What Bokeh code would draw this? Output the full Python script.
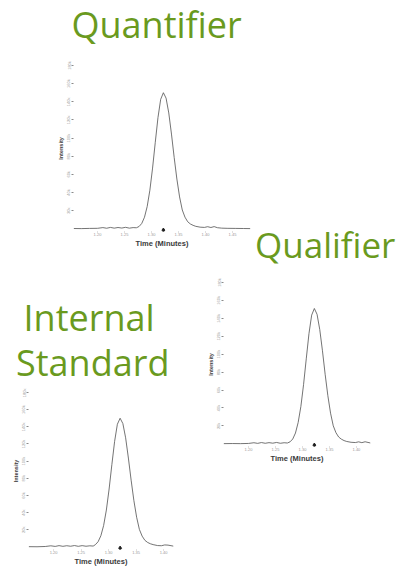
from bokeh.plotting import figure
from bokeh.layouts import column, row
from bokeh.models import Range1d, FixedTicker, NumeralTickFormatter, Label, Spacer
from bokeh.embed import file_html
from bokeh.resources import INLINE

GREEN = "#6a9a1e"
TRACE = "#505050"
AXIS_GREY = "#9a9a9a"

# Quantifier ion trace (time in minutes, intensity in counts)
quant_time = [1.156, 1.170, 1.185, 1.200, 1.210, 1.217, 1.224, 1.231, 1.238, 1.245,
              1.252, 1.259, 1.266, 1.272, 1.277, 1.282, 1.287, 1.292, 1.297, 1.302,
              1.307, 1.312, 1.317, 1.322, 1.327, 1.332, 1.337, 1.342, 1.347, 1.352,
              1.357, 1.362, 1.367, 1.372, 1.377, 1.382, 1.390, 1.398, 1.404, 1.410,
              1.416, 1.422, 1.430, 1.440, 1.455, 1.470, 1.483]
quant_int = [300, 200, 400, 500, 1300, 600, 1500, 700, 1400, 800,
             1600, 700, 1300, 1100, 2500, 5900, 12700, 24500, 42500, 66900,
             95300, 122600, 142700, 150000, 144000, 127700, 104400, 78600, 54800, 35100,
             20700, 12800, 7800, 5300, 3800, 2700, 1800, 1500, 2300, 1400,
             2400, 1200, 700, 500, 400, 300, 200]

# Qualifier ion trace
qual_time = [1.154, 1.170, 1.185, 1.200, 1.210, 1.217, 1.224, 1.231, 1.238, 1.245,
             1.252, 1.259, 1.266, 1.272, 1.277, 1.282, 1.287, 1.292, 1.297, 1.302,
             1.307, 1.312, 1.317, 1.322, 1.327, 1.332, 1.337, 1.342, 1.347, 1.352,
             1.357, 1.362, 1.367, 1.372, 1.377, 1.382, 1.390, 1.398, 1.404, 1.410,
             1.416, 1.426]
qual_int = [200, 300, 200, 400, 1200, 500, 1400, 600, 1300, 700,
            1500, 600, 1200, 900, 2200, 5400, 12000, 23800, 41600, 66000,
            94800, 122900, 143600, 151000, 144500, 127500, 103800, 77600, 53700, 34200,
            20100, 12400, 7600, 5200, 3600, 2600, 1700, 1400, 2200, 1300,
            2300, 900]

# Internal standard trace
istd_time = [1.155, 1.170, 1.185, 1.195, 1.203, 1.210, 1.217, 1.224, 1.231, 1.238,
             1.245, 1.252, 1.259, 1.266, 1.272, 1.276, 1.281, 1.286, 1.291, 1.296,
             1.301, 1.306, 1.311, 1.316, 1.321, 1.326, 1.331, 1.336, 1.341, 1.346,
             1.351, 1.356, 1.361, 1.366, 1.371, 1.376, 1.381, 1.389, 1.396, 1.402,
             1.408, 1.418]
istd_int = [300, 200, 500, 1300, 600, 1500, 700, 1400, 800, 1600,
            700, 1500, 800, 1300, 1000, 2600, 6100, 13000, 24900, 43000,
            67500, 96000, 123000, 143000, 150000, 143800, 127200, 103600, 77800, 54000,
            34600, 20400, 12600, 7700, 5200, 3700, 2700, 1600, 1400, 2300,
            2100, 900]

# Retention times marked under each peak
quant_rt = 1.322
qual_rt = 1.322
istd_rt = 1.321

time_ticks = [1.20, 1.25, 1.30, 1.35, 1.40, 1.45]
intensity_ticks = [20000, 40000, 60000, 80000, 100000, 120000, 140000, 160000, 180000]

# a little room under the baseline for the retention-time pointer
Y_START, Y_END = -3000, 180000
RT_MARK_Y = -1500


def chromatogram(time, intensity, rt, x_start, x_end, width, height,
                 left, right, top, bottom):
    p = figure(width=width, height=height, title=None,
               x_range=Range1d(x_start, x_end), y_range=Range1d(Y_START, Y_END),
               output_backend="svg", toolbar_location=None,
               min_border_left=left, min_border_right=right,
               min_border_top=top, min_border_bottom=bottom,
               x_axis_label="Time (Minutes)", y_axis_label="Intensity")
    p.outline_line_color = None
    p.grid.visible = False
    p.background_fill_color = "white"
    p.border_fill_color = "white"

    p.line(time, intensity, line_color=TRACE, line_width=0.8)
    p.scatter([rt], [RT_MARK_Y], marker="diamond", size=4.2,
              fill_color="#1e1e1e", line_color="#1e1e1e")

    xa = p.xaxis[0]
    xa.ticker = FixedTicker(ticks=[t for t in time_ticks if x_start <= t <= x_end])
    xa.formatter = NumeralTickFormatter(format="0.00")
    xa.axis_line_color = None
    xa.major_tick_in = 0
    xa.major_tick_out = 1
    xa.major_tick_line_color = "#c0c0c0"
    xa.minor_tick_line_color = None
    xa.major_label_standoff = 0
    xa.major_label_text_font_size = "4px"
    xa.major_label_text_color = AXIS_GREY
    xa.axis_label_standoff = 0
    xa.axis_label_text_font = "Liberation Sans"
    xa.axis_label_text_font_size = "7.5px"
    xa.axis_label_text_font_style = "bold"
    xa.axis_label_text_color = "#3a3a3a"

    ya = p.yaxis[0]
    ya.ticker = FixedTicker(ticks=intensity_ticks)
    ya.formatter = NumeralTickFormatter(format="0a")
    ya.axis_line_color = None
    ya.major_tick_in = 0
    ya.major_tick_out = 2
    ya.major_tick_line_color = "#8a8a8a"
    ya.minor_tick_line_color = None
    ya.major_label_orientation = "vertical"
    ya.major_label_standoff = 0
    ya.major_label_text_font_size = "4px"
    ya.major_label_text_color = AXIS_GREY
    ya.axis_label_standoff = 0
    ya.axis_label_text_font = "Liberation Sans"
    ya.axis_label_text_font_size = "5.5px"
    ya.axis_label_text_font_style = "bold"
    ya.axis_label_text_color = "#3a3a3a"
    return p


def heading_panel(width, height, lines, size="36px"):
    """Blank strip in pixel units carrying green slide headings (text, x, y)."""
    p = figure(width=width, height=height, title=None,
               x_range=Range1d(0, width), y_range=Range1d(0, height),
               x_axis_location=None, y_axis_location=None,
               output_backend="svg", toolbar_location=None, min_border=0)
    p.outline_line_color = None
    p.grid.visible = False
    p.border_fill_color = "white"
    p.background_fill_color = "white"
    for text, x, y in lines:
        p.add_layout(Label(x=x, y=y, text=text, text_font="Open Sans",
                           text_font_size=size, text_color=GREEN,
                           text_baseline="alphabetic", text_align="left"))
    return p


# top band: quantifier chromatogram with its heading, qualifier heading on the right
quant_head = heading_panel(253, 50, [("Quantifier", 71, 25.7)])
p_quant = chromatogram(quant_time, quant_int, quant_rt, 1.1556, 1.4833,
                       253, 220, 73, 3, 15, 39)
qual_head = heading_panel(145, 52, [("Qualifier", 1.5, 25.6)], size="35px")

# bottom band: internal standard (left) and qualifier (right)
istd_head = heading_panel(200, 118, [("Internal", 23, 70.6), ("Standard", 15.5, 25.6)])
p_istd = chromatogram(istd_time, istd_int, istd_rt, 1.1545, 1.418,
                      200, 180, 28, 27, 4, 13)
p_qual = chromatogram(qual_time, qual_int, qual_rt, 1.1537, 1.426,
                      198, 298, 23, 28, 12, 122)

top_band = row(column(column(quant_head), column(p_quant)),
               column(Spacer(width=145, height=218), column(qual_head)))
bottom_band = row(column(column(istd_head), column(p_istd)), column(p_qual))
layout = column(top_band, bottom_band)

with open("out.html", "w") as f:
    f.write(file_html(layout, INLINE))
